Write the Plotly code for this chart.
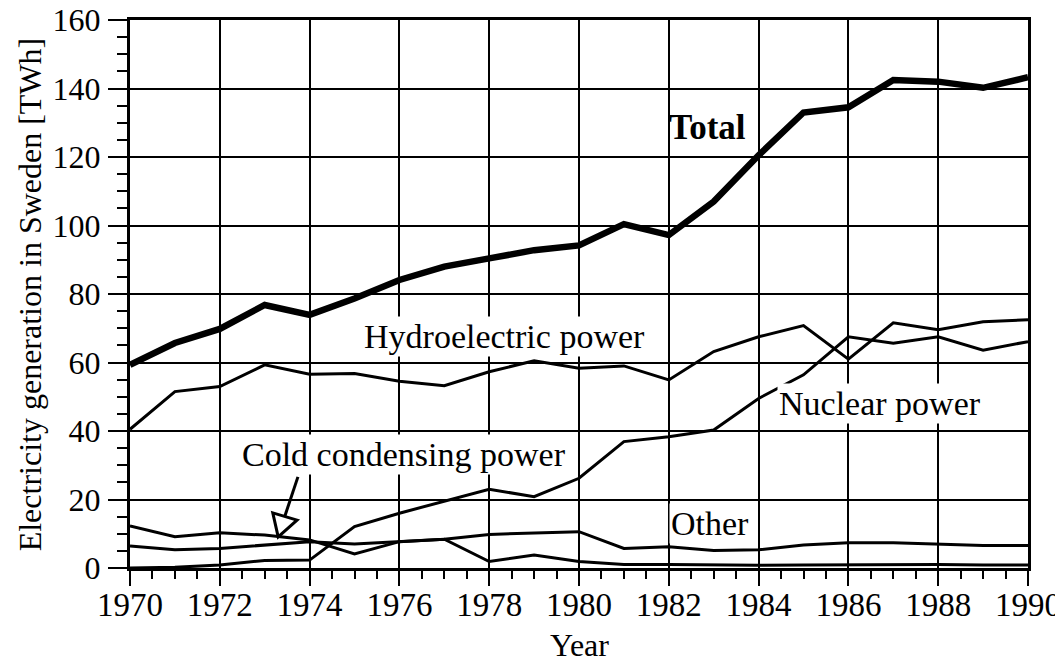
import plotly.graph_objects as go

years = list(range(1970, 1991))
total = [59.3, 65.7, 69.8, 76.8, 73.9, 78.7, 84.1, 88.0, 90.4, 92.8, 94.2,
         100.4, 97.2, 107.0, 120.5, 133.0, 134.5, 142.5, 142.0, 140.2, 143.3]
hydro = [40.5, 51.5, 53.0, 59.3, 56.6, 56.8, 54.5, 53.2, 57.3, 60.5, 58.3,
         59.0, 54.9, 63.2, 67.5, 70.8, 61.0, 71.6, 69.6, 71.9, 72.5]
nuclear = [0.0, 0.2, 0.9, 2.2, 2.3, 12.1, 16.0, 19.4, 23.0, 20.8, 26.2,
           36.9, 38.3, 40.3, 49.5, 56.4, 67.5, 65.6, 67.5, 63.6, 66.1]
cold = [12.3, 9.1, 10.3, 9.6, 8.2, 4.1, 7.7, 8.4, 1.9, 3.8, 1.9,
        1.0, 1.0, 0.8, 0.8, 0.9, 1.0, 1.0, 1.0, 0.9, 0.9]
other = [6.4, 5.3, 5.7, 6.7, 7.7, 7.0, 7.7, 8.4, 9.8, 10.1, 10.6,
         5.7, 6.2, 5.1, 5.3, 6.7, 7.4, 7.4, 7.0, 6.6, 6.6]

FONT = "Liberation Serif"

fig = go.Figure()
for name, vals, w in [("Hydroelectric power", hydro, 3),
                      ("Nuclear power", nuclear, 3),
                      ("Cold condensing power", cold, 3),
                      ("Other", other, 3),
                      ("Total", total, 6.5)]:
    fig.add_trace(go.Scatter(x=years, y=vals, mode="lines", name=name,
                             line=dict(color="black", width=w),
                             showlegend=False))

labels = [
    ("Total", 1982.87, 128.5, True, 35),
    ("Hydroelectric power", 1978.33, 67.6, False, 34),
    ("Nuclear power", 1986.70, 48.0, False, 34),
    ("Cold condensing power", 1976.10, 33.0, False, 34),
    ("Other", 1982.92, 13.0, False, 34),
]
for txt, x, y, bold, sz in labels:
    fig.add_annotation(x=x, y=y, xref="x", yref="y",
                       text=f"<b>{txt}</b>" if bold else txt,
                       showarrow=False, xanchor="center", yanchor="middle",
                       bgcolor="white" if not bold else "rgba(0,0,0,0)",
                       font=dict(family=FONT, size=sz, color="black"))

# axis titles
fig.add_annotation(x=0.5, y=-0.14, xref="paper", yref="paper",
                   text="Year", showarrow=False, xanchor="center", yanchor="middle",
                   font=dict(family=FONT, size=32, color="black"))
fig.add_annotation(x=-0.111, y=0.5, xref="paper", yref="paper",
                   text="Electricity generation in Sweden [TWh]", textangle=-90,
                   showarrow=False, xanchor="center", yanchor="middle",
                   font=dict(family=FONT, size=32, color="black"))

# hollow arrow pointing to cold condensing line
fig.add_shape(type="line", xref="x", yref="y",
              x0=1973.74, y0=26.6, x1=1973.45, y1=15.2,
              line=dict(color="black", width=3))
fig.add_shape(type="path", xref="x", yref="y",
              path="M 1973.18 16.1 L 1973.72 14.0 L 1973.30 9.1 Z",
              fillcolor="white", line=dict(color="black", width=3))

fig.update_xaxes(range=[1970, 1990], dtick=2, tick0=1970, automargin=False,
                 showgrid=True, gridcolor="black", gridwidth=2,
                 showline=True, linecolor="black", linewidth=3, mirror=True,
                 ticks="outside", ticklen=15, tickwidth=2, tickcolor="black",
                 ticklabelstandoff=-10, ticklabeloverflow="allow",
                 minor=dict(dtick=0.5, ticks="outside", ticklen=8,
                            tickwidth=2, tickcolor="black", showgrid=False),
                 tickfont=dict(family=FONT, size=33, color="black"),
                 zeroline=False)
fig.update_yaxes(range=[0, 160], dtick=20, tick0=0, automargin=False,
                 showgrid=True, gridcolor="black", gridwidth=2,
                 showline=True, linecolor="black", linewidth=3, mirror=True,
                 ticks="outside", ticklen=19, tickwidth=2, tickcolor="black",
                 ticklabelstandoff=1, ticklabeloverflow="allow",
                 minor=dict(dtick=5, ticks="outside", ticklen=10,
                            tickwidth=2, tickcolor="black", showgrid=False),
                 tickfont=dict(family=FONT, size=32, color="black"),
                 zeroline=False)

# page body has an 8px margin, so the figure is 8px smaller than the window
fig.update_layout(width=1055, height=654,
                  margin=dict(l=122, r=35, t=12, b=94),
                  plot_bgcolor="white", paper_bgcolor="white")

fig.write_html("out.html")
